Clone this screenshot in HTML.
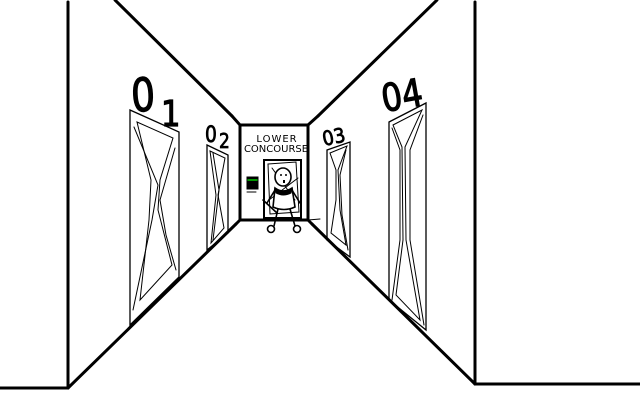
<!DOCTYPE html>
<html><head><meta charset="utf-8"><style>
html,body{margin:0;padding:0;background:#fff;width:640px;height:400px;overflow:hidden}
svg{display:block}
text{font-family:"DejaVu Sans","Liberation Sans",sans-serif;fill:#000}
</style></head><body>
<svg width="640" height="400" viewBox="0 0 640 400">
<g stroke="#000" fill="none" stroke-linecap="round">
<line x1="68" y1="2" x2="68" y2="388" stroke-width="3"/>
<line x1="0" y1="388" x2="68" y2="388" stroke-width="3"/>
<line x1="475" y1="2" x2="475" y2="384" stroke-width="3"/>
<line x1="475" y1="384" x2="640" y2="384" stroke-width="3"/>
<line x1="115" y1="0" x2="232" y2="116" stroke-width="3"/>
<line x1="437" y1="0" x2="318" y2="116" stroke-width="3"/>
<line x1="68" y1="388" x2="236" y2="224" stroke-width="3"/>
<line x1="475" y1="384" x2="312" y2="224" stroke-width="3"/>
<polygon points="240,125 308,125 308,220 240,220" stroke-width="3"/>
<line x1="232" y1="116" x2="240" y2="125" stroke-width="3"/>
<line x1="318" y1="116" x2="308" y2="125" stroke-width="3"/>
<line x1="236" y1="224" x2="240" y2="220" stroke-width="3"/>
<line x1="312" y1="224" x2="308" y2="220" stroke-width="3"/>
<line x1="308" y1="220" x2="320" y2="219" stroke-width="1"/>
<polygon points="130,110 179,132 179,277 130,325" stroke-width="1.3"/>
<polygon points="137,122 173,138 160,180 158,210 172,265 140,300 149,220 151,180" stroke-width="1"/>
<polyline points="134,127 158,185 152,220 133,310" stroke-width="1"/>
<polyline points="175,148 160,200 166,235 176,270" stroke-width="1"/>
<polygon points="207,145 228,155 228,233 207,250" stroke-width="1.3"/>
<polygon points="210,151 225,158 218,195 224,228 211,243 216,195" stroke-width="1"/>
<polyline points="213,153 219,190 213,240" stroke-width="1"/>
<polygon points="327,150 350,142 350,257 327,240" stroke-width="1.3"/>
<polygon points="330,153 347,146 338,170 340,210 346,245 331,233 336,200 336,170" stroke-width="1"/>
<polyline points="346,150 340,175 342,215 348,250" stroke-width="1"/>
<polygon points="389,122 426,103 426,330 389,300" stroke-width="1.3"/>
<polygon points="393,125 422,110 405,147 406,240 420,320 396,295 403,240 402,147" stroke-width="1"/>
<polyline points="392,128 400,150 400,240 392,300" stroke-width="1"/>
<polyline points="423,115 410,150 410,240 424,325" stroke-width="1"/>
<rect x="264" y="160" width="37" height="58" stroke-width="2"/>
<polygon points="268,164 296,162 299,212 270,214" stroke-width="1"/>
<line x1="272" y1="168" x2="295" y2="200" stroke-width="1"/>
<line x1="269" y1="200" x2="298" y2="178" stroke-width="1"/>
<rect x="247" y="177" width="11" height="12" fill="#000" stroke-width="1"/>
<line x1="248" y1="180" x2="257" y2="180" stroke="#0c0" stroke-width="1.5"/>
<line x1="247" y1="192" x2="256" y2="192" stroke-width="1"/>
<g stroke-width="1.6" fill="#fff">
<ellipse cx="283" cy="177" rx="8" ry="9"/>
<path d="M275 188 Q283 194 292 188 L295 207 Q284 212 273 207 Z"/>
<line x1="275" y1="190" x2="267" y2="203" fill="none"/>
<line x1="292" y1="190" x2="300" y2="203" fill="none"/>
<line x1="263" y1="200" x2="277" y2="213" fill="none"/>
<line x1="278" y1="209" x2="274" y2="226" fill="none"/>
<line x1="290" y1="209" x2="295" y2="226" fill="none"/>
<circle cx="271" cy="229" r="3.5"/>
<circle cx="297" cy="229" r="3.5"/>
</g>
<g fill="#000" stroke="none"><circle cx="281" cy="175" r="1"/><circle cx="286" cy="175" r="1"/><rect x="283" y="180" width="2" height="3"/></g>
<path d="M275 189 Q283 195 292 189 L291 193 Q283 197 276 193 Z" fill="#000" stroke-width="1"/>
</g>
<text x="277" y="142" font-size="10" text-anchor="middle" letter-spacing="1">LOWER</text>
<text x="276" y="152" font-size="10" text-anchor="middle">CONCOURSE</text>
<g stroke="#000" stroke-width="1.2">
<text font-size="46" transform="translate(132 112) scale(0.82 1) rotate(-4)">0</text>
<text font-size="36" transform="translate(161 126) scale(0.85 1)">1</text>
<text font-size="22" transform="translate(205 142) scale(0.85 1)" stroke-width="0.8">0</text>
<text font-size="20" transform="translate(219 148) scale(0.85 1)" stroke-width="0.8">2</text>
<text font-size="20" transform="translate(324 146) rotate(-12) scale(0.9 1)" stroke-width="0.8">03</text>
<text font-size="38" transform="translate(384 112) rotate(-10) scale(0.85 1)">04</text>
</g>
</svg>
</body></html>
